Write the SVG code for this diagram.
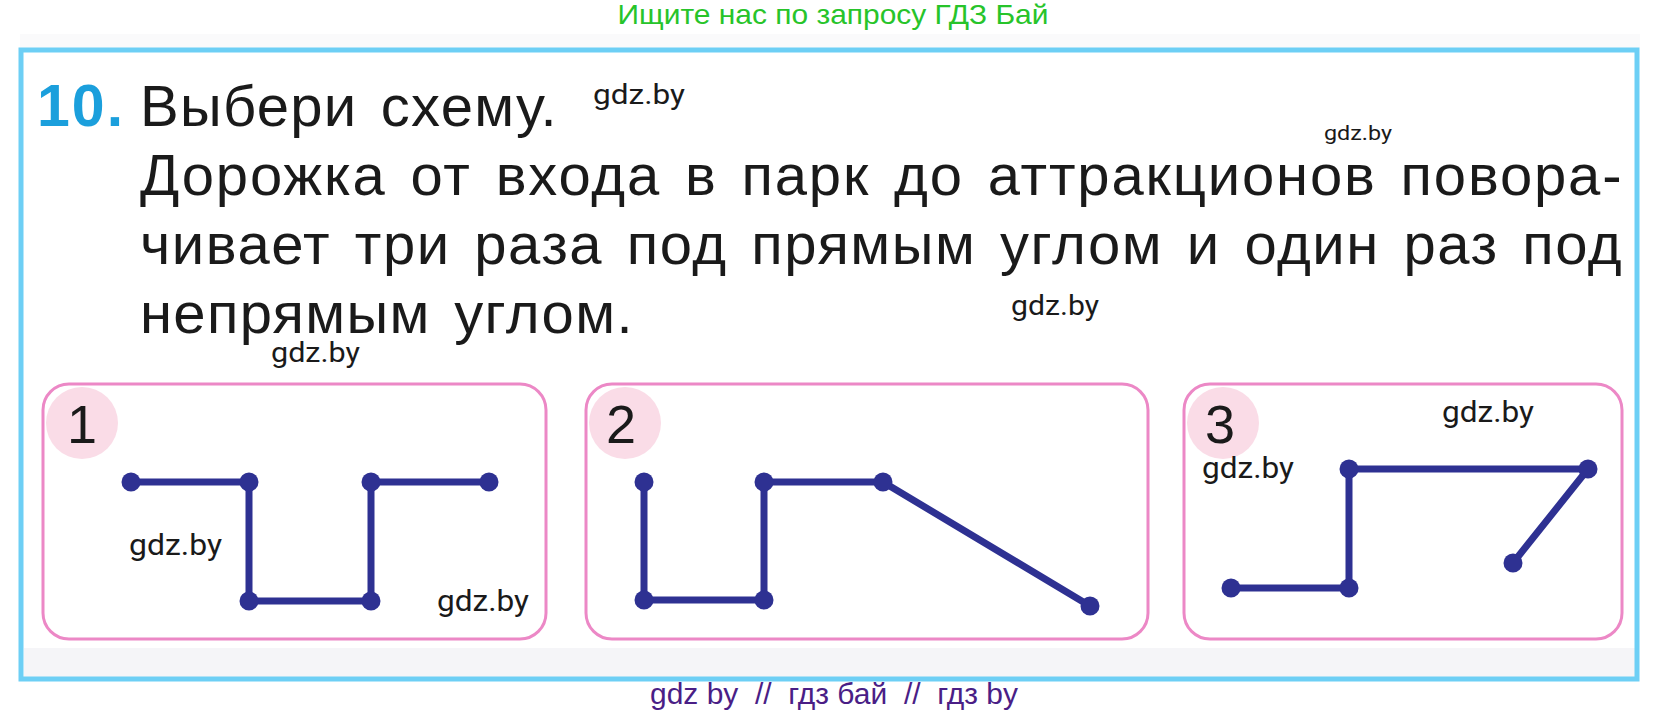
<svg xmlns="http://www.w3.org/2000/svg" width="1668" height="715" viewBox="0 0 1668 715">
<style>
.frame{fill:none;stroke:#6dcff5;stroke-width:5}
.box{fill:#fff;stroke:#ec88c6;stroke-width:3}
.badge{fill:#fadce7}
.num{font-family:"Liberation Sans",Arial,sans-serif;font-size:54px;fill:#1a1a1a}
.path{fill:none;stroke:#2e3192;stroke-width:7;stroke-linejoin:round;stroke-linecap:round}
.dot{fill:#2e3192}
.wm{font-family:Roboto,"Liberation Sans",sans-serif;fill:#1a1a1a}
.main{font-family:"Liberation Sans",Arial,sans-serif;font-size:58px;fill:#1a1a1a;letter-spacing:1.5px;word-spacing:6px}
</style>
<rect width="1668" height="715" fill="#fff"/>
<rect x="20" y="34" width="1620" height="14" fill="#fafafb"/>
<rect x="24" y="648" width="1611" height="29" fill="#f5f5f8"/>
<text x="833" y="24" text-anchor="middle" font-family="'Liberation Sans',Arial,sans-serif" font-size="28" fill="#27c42a" textLength="431" lengthAdjust="spacingAndGlyphs">Ищите нас по запросу ГДЗ Бай</text>
<rect id="frame" class="frame" x="21" y="50" width="1616" height="629"/>
<g id="task">
<text x="37" y="126" font-family="'Liberation Sans',Arial,sans-serif" font-size="59" font-weight="bold" fill="#1b9fdc" letter-spacing="2">10.</text>
<text class="main" x="140" y="126" textLength="418" lengthAdjust="spacing">Выбери схему.</text>
<text class="main" x="140" y="195" textLength="1483" lengthAdjust="spacing">Дорожка от входа в парк до аттракционов повора-</text>
<text class="main" x="140" y="264" textLength="1483" lengthAdjust="spacing">чивает три раза под прямым углом и один раз под</text>
<text class="main" x="140" y="333" textLength="494" lengthAdjust="spacing">непрямым углом.</text>
</g>
<g id="watermarks">
<text class="wm" x="593" y="104" font-size="27" textLength="92" lengthAdjust="spacingAndGlyphs">gdz.by</text>
<text class="wm" x="1324" y="140" font-size="21" textLength="68" lengthAdjust="spacingAndGlyphs">gdz.by</text>
<text class="wm" x="1011" y="315" font-size="27" textLength="88" lengthAdjust="spacingAndGlyphs">gdz.by</text>
<text class="wm" x="271" y="362" font-size="27" textLength="89" lengthAdjust="spacingAndGlyphs">gdz.by</text>
</g>
<g id="scheme1">
<rect class="box" x="43" y="384" width="503" height="255" rx="26"/>
<circle class="badge" cx="82" cy="423" r="36"/>
<text class="num" x="67" y="443">1</text>
<text class="wm" x="129" y="555" font-size="30" textLength="93" lengthAdjust="spacingAndGlyphs">gdz.by</text>
<text class="wm" x="437" y="611" font-size="30" textLength="92" lengthAdjust="spacingAndGlyphs">gdz.by</text>
</g>
<g id="scheme2">
<rect class="box" x="586" y="384" width="562" height="255" rx="26"/>
<circle class="badge" cx="625" cy="423" r="36"/>
<text class="num" x="606" y="443">2</text>
</g>
<g id="scheme3">
<rect class="box" x="1184" y="384" width="438" height="255" rx="26"/>
<circle class="badge" cx="1223" cy="423" r="36"/>
<text class="num" x="1205" y="443">3</text>
<text class="wm" x="1442" y="422" font-size="30" textLength="92" lengthAdjust="spacingAndGlyphs">gdz.by</text>
<text class="wm" x="1202" y="478" font-size="30" textLength="92" lengthAdjust="spacingAndGlyphs">gdz.by</text>
</g>
<g id="connectors">
<polyline class="path" points="131,482 249,482 249,601 371,601 371,482 489,482"/>
<polyline class="path" points="644,482 644,600 764,600 764,482 883,482 1090,606"/>
<polyline class="path" points="1231,588 1349,588 1349,469 1588,469 1513,563"/>
<g class="dot">
<circle cx="131" cy="482" r="9.5"/><circle cx="249" cy="482" r="9.5"/><circle cx="249" cy="601" r="9.5"/><circle cx="371" cy="601" r="9.5"/><circle cx="371" cy="482" r="9.5"/><circle cx="489" cy="482" r="9.5"/>
<circle cx="644" cy="482" r="9.5"/><circle cx="644" cy="600" r="9.5"/><circle cx="764" cy="600" r="9.5"/><circle cx="764" cy="482" r="9.5"/><circle cx="883" cy="482" r="9.5"/><circle cx="1090" cy="606" r="9.5"/>
<circle cx="1231" cy="588" r="9.5"/><circle cx="1349" cy="588" r="9.5"/><circle cx="1349" cy="469" r="9.5"/><circle cx="1588" cy="469" r="9.5"/><circle cx="1513" cy="563" r="9.5"/>
</g>
</g>
<text x="834" y="704" text-anchor="middle" font-family="'Liberation Sans',Arial,sans-serif" font-size="29" fill="#4a1e86" textLength="368" lengthAdjust="spacingAndGlyphs" style="white-space:pre">gdz by  //  гдз бай  //  гдз by</text>
</svg>
